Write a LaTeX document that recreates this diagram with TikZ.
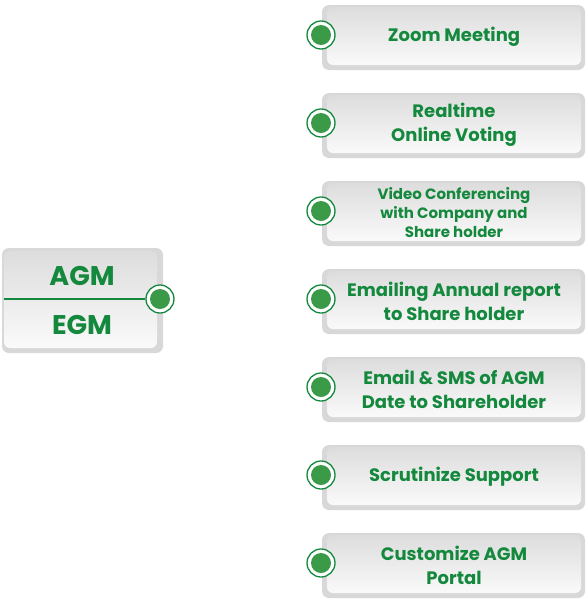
\documentclass[tikz,border=0pt]{standalone}
\usepackage{fontspec}
\setmainfont{Poppins}
\definecolor{txtgreen}{HTML}{14893D}
\definecolor{dotgreen}{HTML}{3A9A48}
\definecolor{framegray}{HTML}{D8D8D8}
\definecolor{cardtop}{HTML}{DDDDDD}
\definecolor{cardbot}{HTML}{FAFAFA}
\tikzset{
  frame/.style={fill=framegray, rounded corners=7pt},
  card/.style={rectangle, rounded corners=6pt, top color=cardtop, bottom color=cardbot,
    draw=none, align=center, text=txtgreen, inner sep=0pt},
  itemcard/.style={card, minimum width=254pt, minimum height=58pt,
    font=\bfseries\fontsize{18}{24}\selectfont},
  ring/.style={circle, draw=txtgreen, line width=1.3pt, fill=white,
    minimum size=28pt, inner sep=0pt},
  dot/.style={circle, fill=dotgreen, minimum size=20pt, inner sep=0pt},
  bigtext/.style={text=txtgreen, font=\bfseries\fontsize{27}{30}\selectfont, inner sep=0pt},
}
\begin{document}
\begin{tikzpicture}[x=1pt, y=-1pt]
  \useasboundingbox (0,0) rectangle (587,600);

  % left card: AGM / EGM
  \fill[frame] (2,248) rectangle (163,353);
  \shade[top color=cardtop, bottom color=cardbot, rounded corners=6pt] (4,251) rectangle (157,348);
  \node[bigtext] (agm) at (82,276) {AGM};
  \node[bigtext] (egm) at (82,325) {EGM};
  \node[ring] (hub) at (160,299) {};
  \node[dot] (hubdot) at (hub.center) {};
  \coordinate (divstart) at (4,299);
  \draw[txtgreen, line width=1.3pt] (divstart) -- (hub.west);

  % right column of services
  \foreach \i/\y/\txt/\fs in {
      1/36/{Zoom Meeting}/18,
      2/124/{Realtime\\Online Voting}/18,
      3/212/{Video Conferencing\\with Company and\\Share holder}/15,
      4/300/{Emailing Annual report\\to Share holder}/18,
      5/388/{Email \& SMS of AGM\\Date to Shareholder}/18,
      6/476/{Scrutinize Support}/18,
      7/564/{Customize AGM\\Portal}/18} {
    \fill[frame] (322,\y-31) rectangle (585,\y+34);
    \shade[top color=cardtop, bottom color=cardbot, rounded corners=6pt] (327,\y-29) rectangle (581,\y+29);
    \ifnum\fs=15
      \node[text=txtgreen, align=center, inner sep=0pt, font=\bfseries\fontsize{15}{19}\selectfont] (item\i) at (454,\y+1) {\txt};
    \else
      \node[text=txtgreen, align=center, inner sep=0pt, font=\bfseries\fontsize{18}{24}\selectfont] (item\i) at (454,\y+1) {\txt};
    \fi
    \node[ring] (ring\i) at (321,\y-1) {};
    \node[dot] (dot\i) at (ring\i.center) {};
  }
\end{tikzpicture}
\end{document}
